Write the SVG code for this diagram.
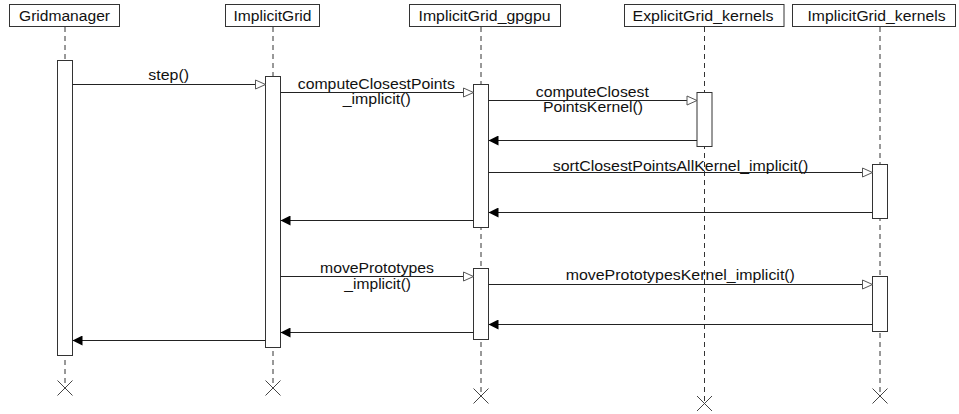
<svg xmlns="http://www.w3.org/2000/svg" width="959" height="414" viewBox="0 0 959 414">
<defs>
<style>
.box{fill:#fff;stroke:#333;stroke-width:1}
.act{fill:#fff;stroke:#333;stroke-width:1}
.life{stroke:#333;stroke-width:1;stroke-dasharray:5,4;fill:none}
.x{stroke:#444;stroke-width:1;fill:none}
.msg{stroke:#222;stroke-width:1;fill:none}
.call{marker-end:url(#open)}
.ret{marker-end:url(#filled)}
text{font-family:"Liberation Sans",Arial,sans-serif;font-size:14px;fill:#111}
.c{text-anchor:middle}
</style>
<marker id="open" viewBox="0 0 10 10" refX="10" refY="5" markerWidth="10" markerHeight="10" markerUnits="userSpaceOnUse" orient="auto" overflow="visible">
<path d="M0,0.5 L10,5 L0,9.5 Z" fill="#fff" stroke="#555" stroke-width="1"/>
</marker>
<marker id="filled" viewBox="0 0 10 10" refX="10" refY="5" markerWidth="10" markerHeight="10" markerUnits="userSpaceOnUse" orient="auto">
<path d="M0,0 L10,5 L0,10 Z" fill="#000"/>
</marker>
</defs>
<rect width="959" height="414" fill="#fff"/>

<g id="lifelines">
<line class="life" x1="65" y1="27" x2="65" y2="388"/>
<line class="life" x1="273" y1="27" x2="273" y2="388"/>
<line class="life" x1="481" y1="27" x2="481" y2="396"/>
<line class="life" x1="704.5" y1="27" x2="704.5" y2="403.5"/>
<line class="life" x1="880" y1="27" x2="880" y2="396"/>
</g>

<g id="n-gridmanager">
<rect class="box" x="9.5" y="4.5" width="110" height="22"/>
<text class="c" x="64.5" y="21" textLength="91" lengthAdjust="spacingAndGlyphs">Gridmanager</text>
<rect class="act" x="57.5" y="60.5" width="15" height="295"/>
<path class="x" d="M57.5,380.5 L72.5,395.5 M72.5,380.5 L57.5,395.5"/>
</g>

<g id="n-implicitgrid">
<rect class="box" x="225.5" y="4.5" width="94" height="22"/>
<text class="c" x="272.5" y="21" textLength="78" lengthAdjust="spacingAndGlyphs">ImplicitGrid</text>
<rect class="act" x="265.5" y="76.5" width="15" height="271"/>
<path class="x" d="M265.5,380.5 L280.5,395.5 M280.5,380.5 L265.5,395.5"/>
</g>

<g id="n-gpgpu">
<rect class="box" x="409.5" y="4.5" width="151" height="22"/>
<text class="c" x="484.5" y="21" textLength="132" lengthAdjust="spacingAndGlyphs">ImplicitGrid_gpgpu</text>
<rect class="act" x="473.5" y="84.5" width="15" height="143"/>
<rect class="act" x="473.5" y="268.5" width="15" height="71"/>
<path class="x" d="M473.5,388.5 L488.5,403.5 M488.5,388.5 L473.5,403.5"/>
</g>

<g id="n-explicit-kernels">
<rect class="box" x="624.5" y="4.5" width="159.5" height="22"/>
<text class="c" x="703" y="21" textLength="141" lengthAdjust="spacingAndGlyphs">ExplicitGrid_kernels</text>
<rect class="act" x="697" y="92.5" width="15" height="54"/>
<path class="x" d="M697,396 L712,411 M712,396 L697,411"/>
</g>

<g id="n-implicit-kernels">
<rect class="box" x="792.5" y="4.5" width="163" height="22"/>
<text class="c" x="876.5" y="21" textLength="138" lengthAdjust="spacingAndGlyphs">ImplicitGrid_kernels</text>
<rect class="act" x="872.5" y="164.5" width="15" height="54"/>
<rect class="act" x="872.5" y="276.5" width="15" height="55"/>
<path class="x" d="M872.5,388.5 L887.5,403.5 M887.5,388.5 L872.5,403.5"/>
</g>

<g id="connectors">
<line class="msg call" x1="72.5" y1="84.5" x2="265.5" y2="84.5"/>
<line class="msg call" x1="280.5" y1="92.5" x2="473.5" y2="92.5"/>
<line class="msg call" x1="488.5" y1="100.5" x2="697" y2="100.5"/>
<line class="msg ret" x1="697" y1="140.5" x2="488.5" y2="140.5"/>
<line class="msg call" x1="488.5" y1="172.5" x2="872.5" y2="172.5"/>
<line class="msg ret" x1="872.5" y1="212.5" x2="488.5" y2="212.5"/>
<line class="msg ret" x1="473.5" y1="220.5" x2="280.5" y2="220.5"/>
<line class="msg call" x1="280.5" y1="276.5" x2="473.5" y2="276.5"/>
<line class="msg call" x1="488.5" y1="284.5" x2="872.5" y2="284.5"/>
<line class="msg ret" x1="872.5" y1="324.5" x2="488.5" y2="324.5"/>
<line class="msg ret" x1="473.5" y1="332.5" x2="280.5" y2="332.5"/>
<line class="msg ret" x1="265.5" y1="340.5" x2="72.5" y2="340.5"/>
</g>

<g id="labels">
<text class="c" x="168.7" y="80" textLength="40.7" lengthAdjust="spacingAndGlyphs">step()</text>
<text class="c" x="376.3" y="89" textLength="157" lengthAdjust="spacingAndGlyphs">computeClosestPoints</text>
<text class="c" x="376.7" y="104" textLength="68" lengthAdjust="spacingAndGlyphs">_implicit()</text>
<text class="c" x="592.3" y="96.5" textLength="113" lengthAdjust="spacingAndGlyphs">computeClosest</text>
<text class="c" x="593" y="112" textLength="100" lengthAdjust="spacingAndGlyphs">PointsKernel()</text>
<text class="c" x="680.5" y="170.5" textLength="255.6" lengthAdjust="spacingAndGlyphs">sortClosestPointsAllKernel_implicit()</text>
<text class="c" x="377" y="272.5" textLength="114" lengthAdjust="spacingAndGlyphs">movePrototypes</text>
<text class="c" x="377.7" y="289" textLength="66.7" lengthAdjust="spacingAndGlyphs">_implicit()</text>
<text class="c" x="680.3" y="280" textLength="229.3" lengthAdjust="spacingAndGlyphs">movePrototypesKernel_implicit()</text>
</g>
</svg>
